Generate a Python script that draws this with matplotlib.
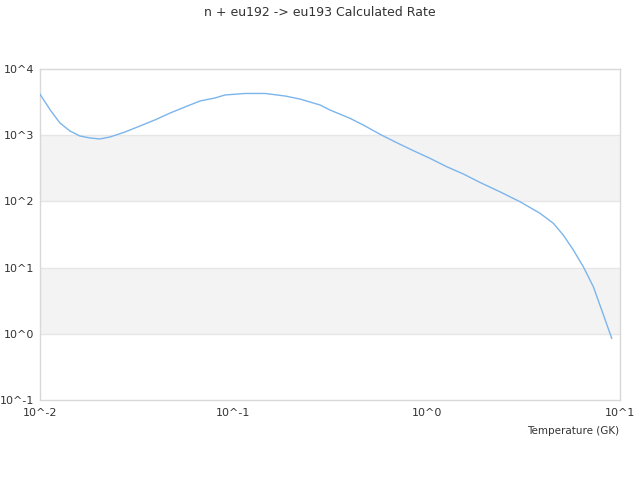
import matplotlib
matplotlib.use("Agg")
import matplotlib.pyplot as plt
from matplotlib.ticker import FixedLocator, NullLocator

temperature = [0.01, 0.0113, 0.01268, 0.0143, 0.0161, 0.01815, 0.0204, 0.023, 0.0275,
               0.0329, 0.0393, 0.0471, 0.0562, 0.0673, 0.0804, 0.0905, 0.115, 0.146,
               0.185, 0.221, 0.281, 0.316, 0.401, 0.470, 0.574, 0.700, 0.853, 1.04,
               1.27, 1.55, 1.89, 2.39, 3.04, 3.86, 4.52, 5.09, 5.74, 6.46, 7.28,
               8.04, 9.06]
rate = [4170, 2400, 1530, 1155, 972, 908, 877, 940, 1117,
        1377, 1700, 2162, 2666, 3290, 3650, 4050, 4270, 4270,
        3910, 3520, 2860, 2404, 1800, 1426, 1032, 771, 584, 448,
        334, 259, 193, 140, 98.8, 66, 46.7, 31, 18.4, 10.3, 5.14,
        2.29, 0.855]

x_ticks = [0.01, 0.1, 1, 10]
x_labels = ["10^-2", "10^-1", "10^0", "10^1"]
y_ticks = [0.1, 1, 10, 100, 1000, 10000]
y_labels = ["10^-1", "10^0", "10^1", "10^2", "10^3", "10^4"]

fig = plt.figure(figsize=(6.4, 4.8), dpi=100)
ax = fig.add_axes([40/640, 1-400/480, 580/640, 331/480])
ax.set_xscale("log")
ax.set_yscale("log")
ax.set_xlim(0.01, 10)
ax.set_ylim(0.1, 10000)

# alternating bands
for lo, hi in [(1, 10), (100, 1000)]:
    ax.axhspan(lo, hi, color="#f3f3f3", zorder=0, lw=0)
for yv in y_ticks[1:-1]:
    ax.axhline(yv, color="#e6e6e6", lw=1, zorder=1)

ax.plot(temperature, rate, color="#7cb5ec", lw=1, zorder=3)

ax.xaxis.set_major_locator(FixedLocator(x_ticks))
ax.xaxis.set_minor_locator(NullLocator())
ax.yaxis.set_major_locator(FixedLocator(y_ticks))
ax.yaxis.set_minor_locator(NullLocator())
ax.set_xticklabels(x_labels)
ax.set_yticklabels(y_labels)
ax.tick_params(axis="both", length=0, labelsize=8, colors="#333333", pad=6)
ax.tick_params(axis="y", pad=4)
for s in ax.spines.values():
    s.set_color("#d8d8d8")
    s.set_linewidth(1)

fig.text(0.5, 1-12/480, "n + eu192 -> eu193 Calculated Rate", ha="center", va="center",
         fontsize=9, color="#333333")
fig.text(619/640, 1-431/480, "Temperature (GK)", ha="right", va="center",
         fontsize=7.5, color="#333333")

fig.savefig("out.png", dpi=100)
